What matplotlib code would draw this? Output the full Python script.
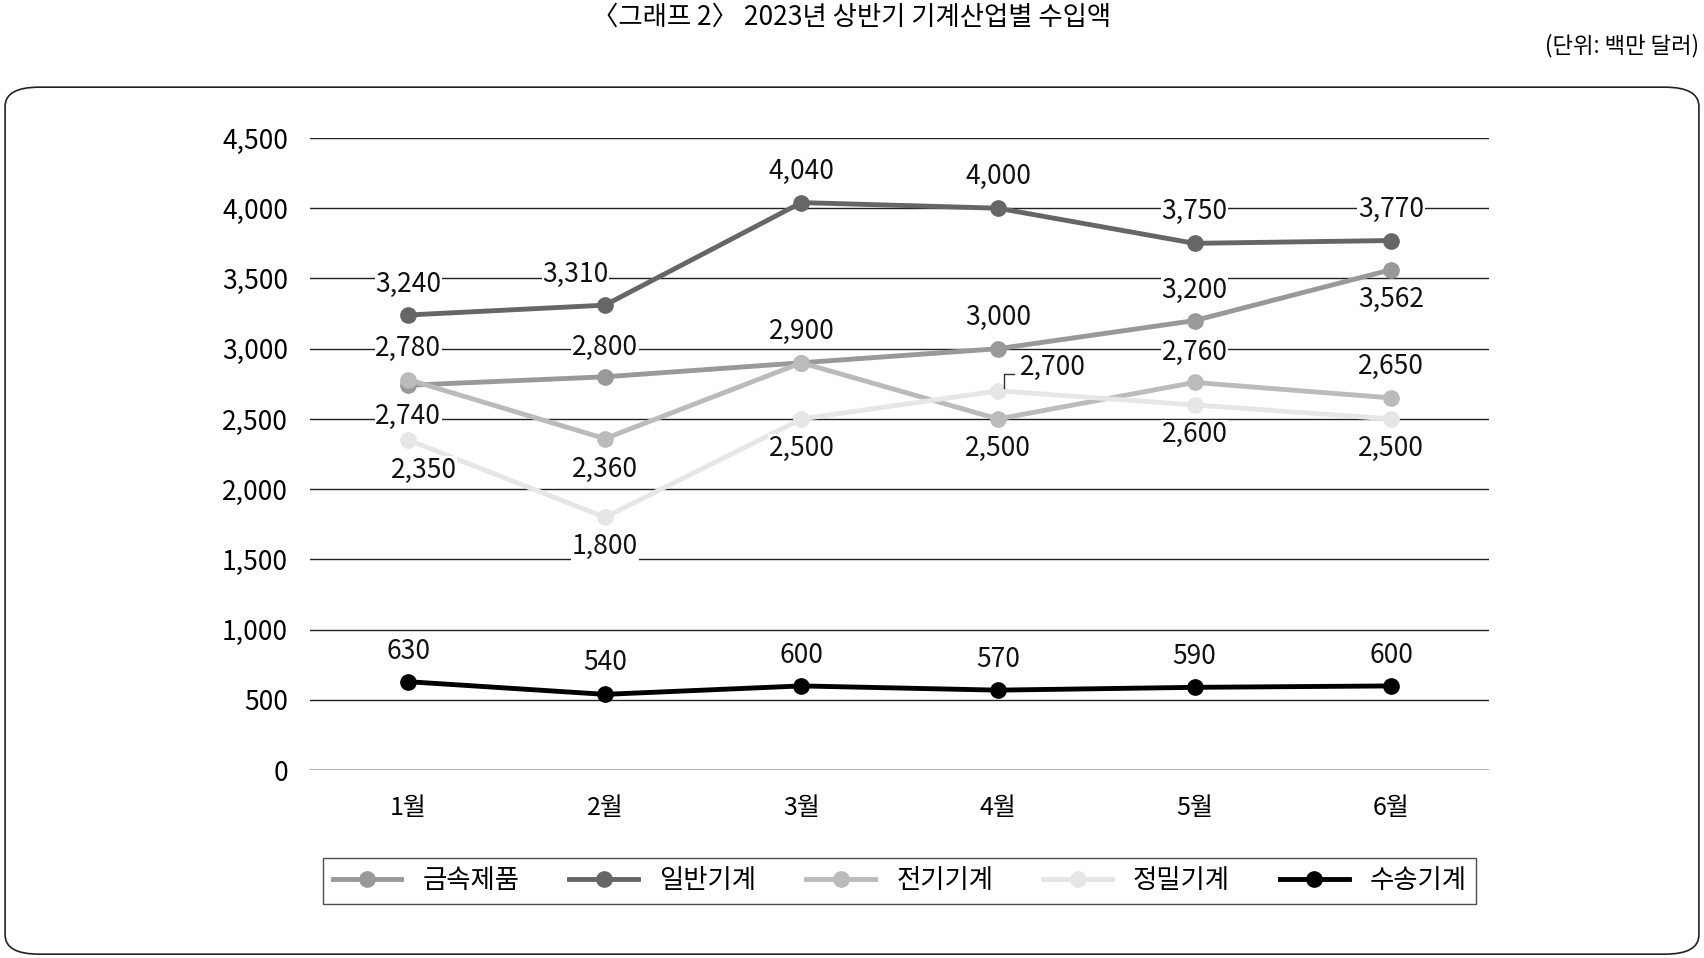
import matplotlib.pyplot as plt
from matplotlib.patches import FancyBboxPatch

plt.rcParams['font.family'] = ['Noto Sans CJK KR', 'DejaVu Sans']

months = ['1월', '2월', '3월', '4월', '5월', '6월']
metal = [2740, 2800, 2900, 3000, 3200, 3562]
general = [3240, 3310, 4040, 4000, 3750, 3770]
electric = [2780, 2360, 2900, 2500, 2760, 2650]
precision = [2350, 1800, 2500, 2700, 2600, 2500]
transport = [630, 540, 600, 570, 590, 600]

series = [
    ('금속제품', metal, '#999999'),
    ('일반기계', general, '#666666'),
    ('전기기계', electric, '#bbbbbb'),
    ('정밀기계', precision, '#e6e6e6'),
    ('수송기계', transport, '#000000'),
]

# label offsets in display px of the reference (scaled below)
offsets = {
    '금속제품': [(0, -29), (0, 27), (0, 29), (0, 29), (0, 28), (0, -27)],
    '일반기계': [(0, 28), (-27, 28), (0, 29), (0, 29), (0, 29), (0, 29)],
    '전기기계': [(0, 29), (0, -28), None, (0, -27), (0, 28), (0, 29)],
    '정밀기계': [(14, -28), (0, -27), (0, -27), (51, 22), (0, -27), (0, -27)],
    '수송기계': [(0, 28), (0, 29), (0, 28), (0, 28), (0, 28), (0, 28)],
}
S = 1704 / 1568

fig = plt.figure(figsize=(17.04, 9.58), dpi=100)
ax = fig.add_axes([0.182, 0.196, 0.692, 0.66])
x = range(len(months))

for name, vals, col in series:
    ax.plot(x, vals, color=col, lw=3.5, marker='o', ms=11, label=name, zorder=3)

for name, vals, col in series:
    for i, v in enumerate(vals):
        off = offsets[name][i]
        if off is None:
            continue
        ax.annotate(f'{v:,}', (i, v), xytext=(off[0] * S, off[1] * S),
                    textcoords='offset pixels', ha='center', va='center',
                    fontsize=19, color='#111111', zorder=5,
                    bbox=dict(facecolor='white', edgecolor='none', pad=0.5))

# small leader for 정밀기계 4월
ax.plot([3.03, 3.03, 3.08], [2720, 2820, 2820], color='#333333', lw=1, zorder=4)

ax.set_xlim(-0.5, 5.5)
ax.set_ylim(0, 4500)
ax.set_yticks(range(0, 4501, 500))
ax.set_yticklabels([f'{t:,}' for t in range(0, 4501, 500)], fontsize=19)
ax.set_xticks(list(x))
ax.set_xticklabels(months, fontsize=18)
ax.tick_params(length=0, pad=18)
ax.tick_params(axis='y', pad=16)
ax.grid(axis='y', color='#222222', lw=1)
ax.set_axisbelow(True)
for s in ax.spines.values():
    s.set_visible(False)
ax.axhline(0, color='#222222', lw=1, zorder=1)

leg = ax.legend(loc='lower left', bbox_to_anchor=(0, -0.232, 1, 0.09), ncol=5,
                fontsize=19, frameon=True, fancybox=False, edgecolor='#222222',
                mode='expand', handlelength=2.6, borderpad=0.35)
leg.get_frame().set_linewidth(1)

fig.patches.append(FancyBboxPatch((0.003, 0.004), 0.994, 0.905,
                                  boxstyle='round,pad=0,rounding_size=0.02',
                                  transform=fig.transFigure, fill=False,
                                  edgecolor='#222222', lw=1.2))
fig.text(0.5, 0.982, '〈그래프 2〉 2023년 상반기 기계산업별 수입액', ha='center',
         va='center', fontsize=19)
fig.text(0.997, 0.952, '(단위: 백만 달러)', ha='right', va='center', fontsize=16)

fig.savefig('out.png', dpi=100, facecolor='white')
